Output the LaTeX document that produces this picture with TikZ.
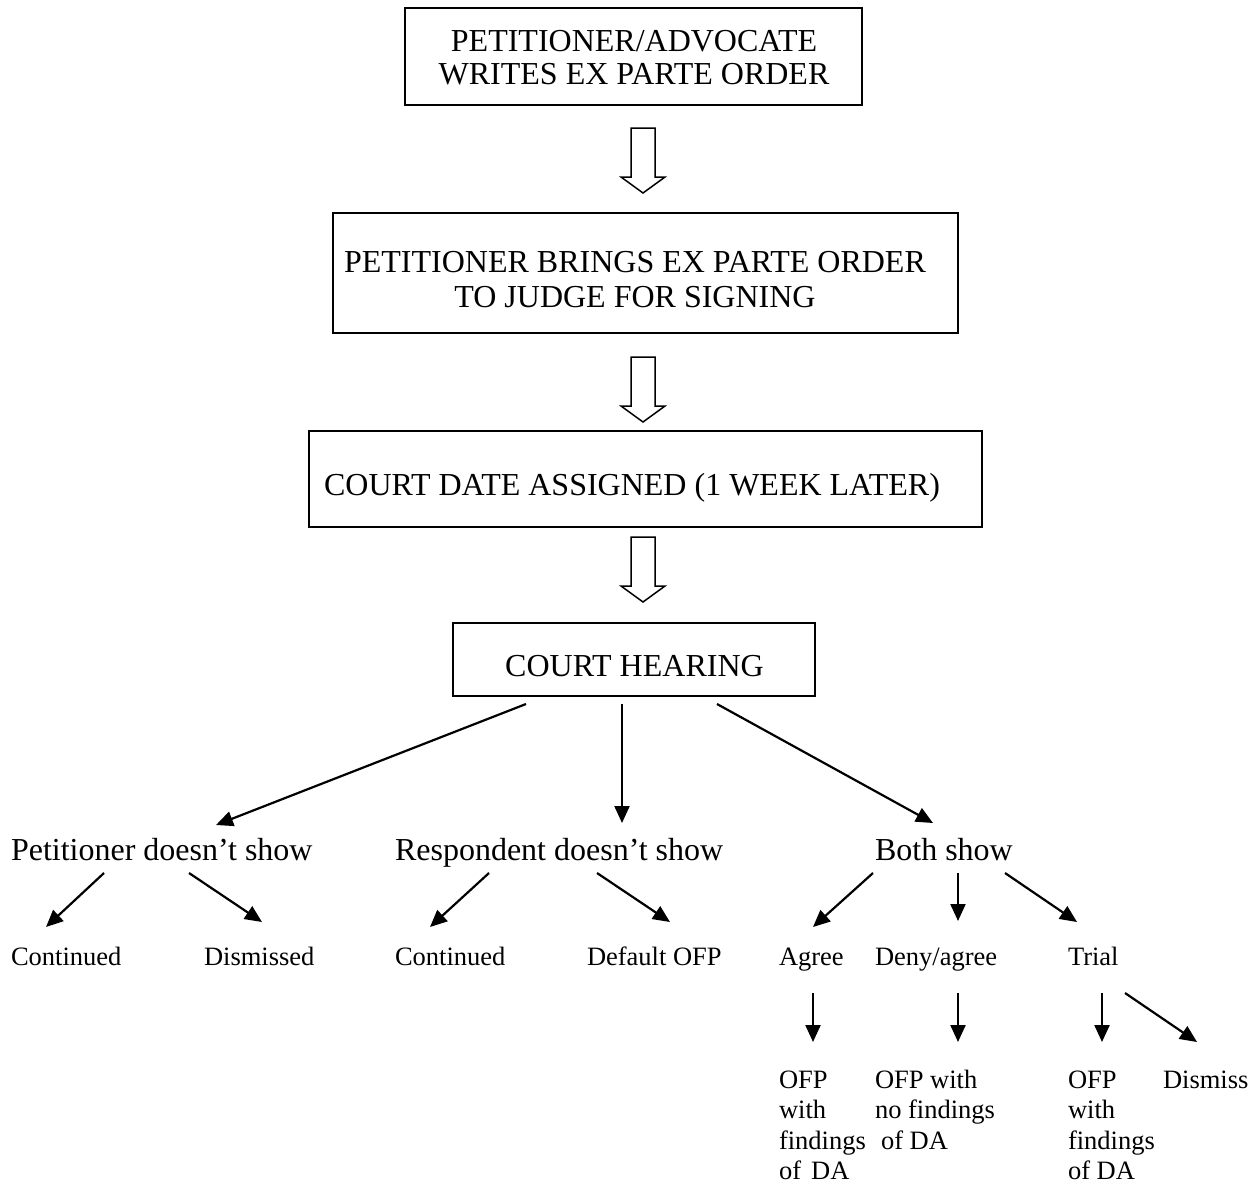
\documentclass[tikz,border=0pt]{standalone}
\usepackage{fontspec}
\setmainfont{Liberation Serif}
\usetikzlibrary{arrows.meta}
\tikzset{
  bigtxt/.style={font=\fontsize{32}{34}\selectfont, inner sep=0pt, outer sep=0pt},
  smalltxt/.style={font=\fontsize{26.5}{30.5}\selectfont, inner sep=0pt, outer sep=0pt, align=left},
  boxnode/.style={draw, line width=1.8pt, inner sep=0pt, outer sep=0pt},
  arr/.style={line width=2.2pt, -{Triangle[length=17pt,width=15pt]}},
  hollowarr/.style={line width=1.5pt, line join=miter},
}
\begin{document}
\begin{tikzpicture}[x=1pt,y=-1pt]
\useasboundingbox (0,0) rectangle (1260,1186);
% boxes
\node[boxnode, minimum width=457pt, minimum height=97pt] (b1) at (633.5,56.5) {};
\node[boxnode, minimum width=625pt, minimum height=120pt] (b2) at (645.5,273) {};
\node[boxnode, minimum width=673pt, minimum height=96pt] (b3) at (645.5,479) {};
\node[boxnode, minimum width=362pt, minimum height=73pt] (hear) at (634,659.5) {};
% box texts
\node[bigtxt, font=\fontsize{32}{33}\selectfont, align=center, anchor=north] (t1) at (634,30.5) {PETITIONER/ADVOCATE\\WRITES EX PARTE ORDER};
\node[bigtxt, font=\fontsize{32}{35}\selectfont, align=center, anchor=north] (t2) at (635,251.4) {PETITIONER BRINGS EX PARTE ORDER\\TO JUDGE FOR SIGNING};
\node[bigtxt, anchor=base] (t3) at (632,495.6) {COURT DATE ASSIGNED (1 WEEK LATER)};
\node[bigtxt, anchor=base] (t4) at (634.5,676.6) {COURT HEARING};
% hollow arrows
\draw[hollowarr] ([shift={(-2.5,23)}]b1.south) -- ++(24,0) -- ++(0,49) -- ++(10,0) -- ++(-22,16) -- ++(-22,-16) -- ++(10,0) -- cycle;
\draw[hollowarr] ([shift={(-14.5,24)}]b2.south) -- ++(24,0) -- ++(0,49) -- ++(10,0) -- ++(-22,16) -- ++(-22,-16) -- ++(10,0) -- cycle;
\draw[hollowarr] ([shift={(-14.5,10)}]b3.south) -- ++(24,0) -- ++(0,49) -- ++(10,0) -- ++(-22,16) -- ++(-22,-16) -- ++(10,0) -- cycle;
% level 2
\node[bigtxt, anchor=base west] (pet) at (11,860) {Petitioner doesn’t show};
\node[bigtxt, anchor=base west] (resp) at (395,860) {Respondent doesn’t show};
\node[bigtxt, anchor=base west] (both) at (875,860) {Both show};
% level 3
\node[smalltxt, anchor=base west] (c1) at (11,965) {Continued};
\node[smalltxt, anchor=base west] (dm) at (204,965) {Dismissed};
\node[smalltxt, anchor=base west] (c2) at (395,965) {Continued};
\node[smalltxt, anchor=base west] (dof) at (587,965) {Default OFP};
\node[smalltxt, anchor=base west] (ag) at (779,965) {Agree};
\node[smalltxt, anchor=base west] (dn) at (875,965) {Deny/agree};
\node[smalltxt, anchor=base west] (tr) at (1068,965) {Trial};
% level 4
\node[smalltxt, anchor=north west] (o1) at (779,1070.5) {OFP\\with\\findings\\of\hspace{3.5pt} DA};
\node[smalltxt, anchor=north west] (o2) at (875,1070) {OFP with\\no findings\\\hspace*{6pt}of DA};
\node[smalltxt, anchor=north west] (o3) at (1068,1070.5) {OFP\\with\\findings\\of DA};
\node[smalltxt, anchor=base west] (dis) at (1163,1088) {Dismiss};
% arrows from hearing
\draw[arr] ([shift={(-108,8)}]hear.south) -- ([shift={(205,-35)}]pet.base west);
\draw[arr] ([shift={(-12,8)}]hear.south) -- ([shift={(227,-37)}]resp.base west);
\draw[arr] ([shift={(83,8)}]hear.south) -- ([shift={(58,-37)}]both.base west);
% arrows level 2 -> 3
\draw[arr] ([shift={(93,13)}]pet.base west) -- ([shift={(35,-38)}]c1.base west);
\draw[arr] ([shift={(178,13)}]pet.base west) -- ([shift={(58,-43)}]dm.base west);
\draw[arr] ([shift={(94,13)}]resp.base west) -- ([shift={(35,-38)}]c2.base west);
\draw[arr] ([shift={(202,13)}]resp.base west) -- ([shift={(83,-43)}]dof.base west);
\draw[arr] ([shift={(-2,13)}]both.base west) -- ([shift={(34,-38)}]ag.base west);
\draw[arr] ([shift={(83,13)}]both.base west) -- ([shift={(83,-44)}]dn.base west);
\draw[arr] ([shift={(130,13)}]both.base west) -- ([shift={(9,-43)}]tr.base west);
% arrows level 3 -> 4
\draw[arr] ([shift={(34,28)}]ag.base west) -- ([shift={(34,-28.5)}]o1.north west);
\draw[arr] ([shift={(83,28)}]dn.base west) -- ([shift={(83,-28)}]o2.north west);
\draw[arr] ([shift={(34,28)}]tr.base west) -- ([shift={(34,-28.5)}]o3.north west);
\draw[arr] ([shift={(57,28)}]tr.base west) -- ([shift={(34,-46)}]dis.base west);
\end{tikzpicture}
\end{document}
